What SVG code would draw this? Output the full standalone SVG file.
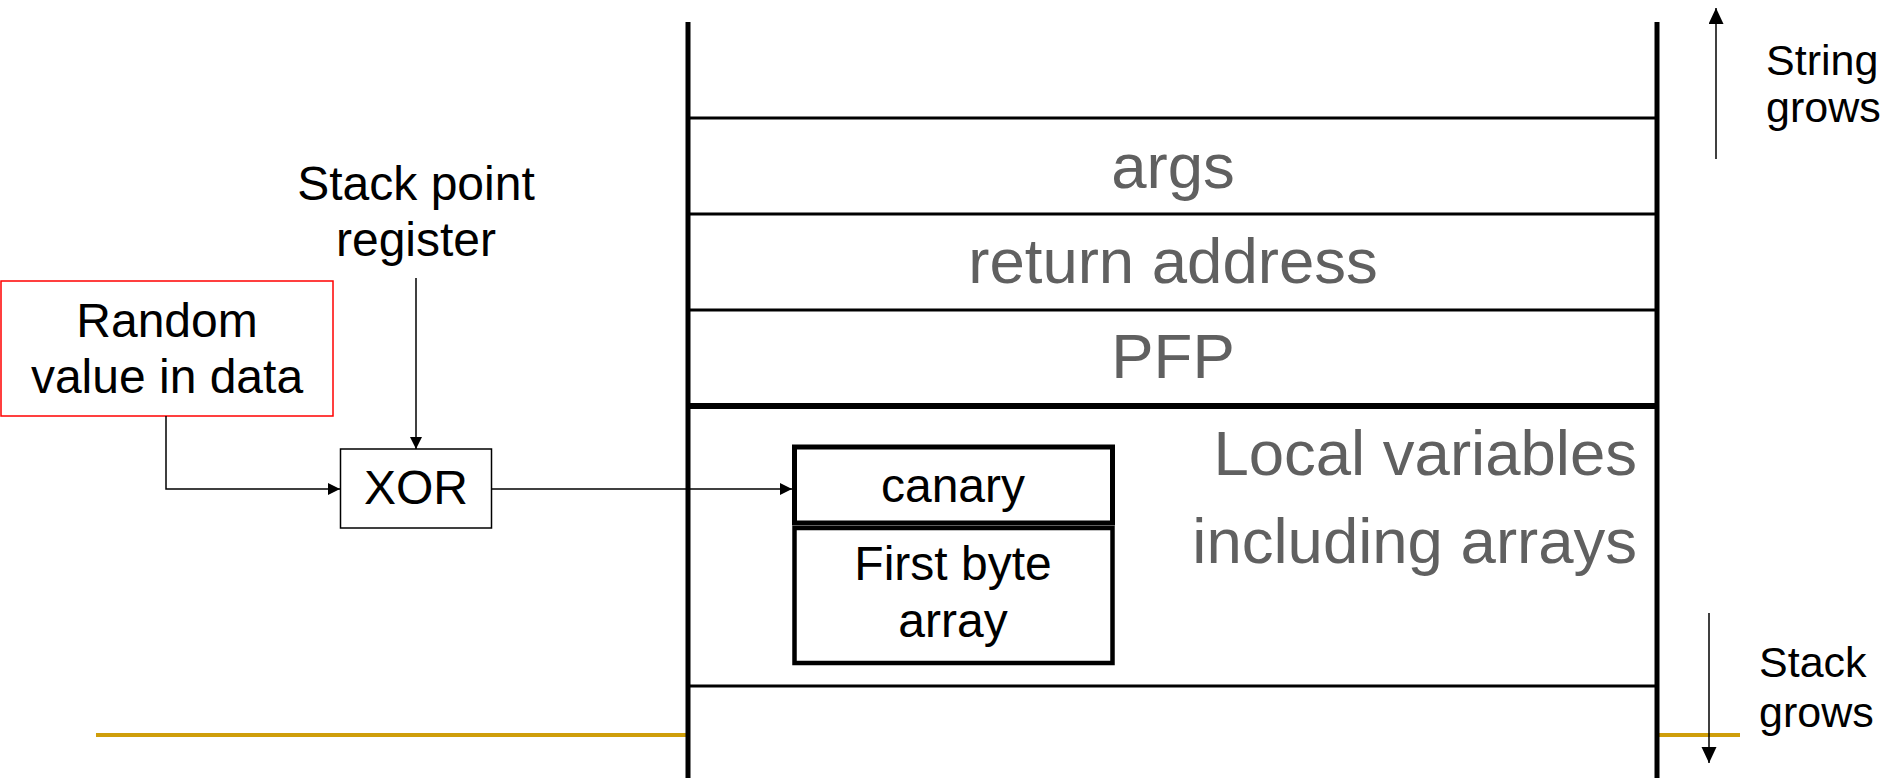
<svg xmlns="http://www.w3.org/2000/svg" width="1889" height="778" viewBox="0 0 1889 778">
  <style>
    .lbl { font-family: "Liberation Sans", Arial, sans-serif; font-size: 48px; fill: #000; }
    .big { font-family: "Liberation Sans", Arial, sans-serif; font-size: 63.5px; fill: #606060; }
    .side { font-family: "Liberation Sans", Arial, sans-serif; font-size: 43px; fill: #000; }
    .wall { stroke: #000; stroke-width: 5; fill: none; }
    .div { stroke: #000; stroke-width: 3; fill: none; }
    .gold { stroke: #cf9e0a; stroke-width: 4; fill: none; }
    .conn { stroke: #000; stroke-width: 1.5; fill: none; }
  </style>
  <defs>
    <marker id="arr" markerUnits="userSpaceOnUse" markerWidth="13" markerHeight="13" refX="12" refY="6" orient="auto">
      <path d="M0,0 L12,6 L0,12 z" fill="#000"/>
    </marker>
    <marker id="arrBig" markerUnits="userSpaceOnUse" markerWidth="17" markerHeight="16" refX="16" refY="7.5" orient="auto">
      <path d="M0,0 L16,7.5 L0,15 z" fill="#000"/>
    </marker>
  </defs>

  <rect width="1889" height="778" fill="#fff"/>

  <!-- stack frame -->
  <g id="stack">
    <line class="gold" x1="96" y1="735" x2="688" y2="735"/>
    <line class="gold" x1="1657" y1="735" x2="1740" y2="735"/>
    <line class="div" x1="688" y1="118" x2="1657" y2="118"/>
    <line class="div" x1="688" y1="214" x2="1657" y2="214"/>
    <line class="div" x1="688" y1="310" x2="1657" y2="310"/>
    <line stroke="#000" stroke-width="6" x1="688" y1="406" x2="1657" y2="406"/>
    <line class="div" x1="688" y1="686" x2="1657" y2="686"/>
    <line class="wall" x1="688" y1="22" x2="688" y2="778"/>
    <line class="wall" x1="1657" y1="22" x2="1657" y2="778"/>
    <text class="big" x="1173" y="188" text-anchor="middle">args</text>
    <text class="big" x="1173" y="283" text-anchor="middle">return address</text>
    <text class="big" x="1173" y="378" text-anchor="middle">PFP</text>
    <text class="big" x="1637" y="475" text-anchor="end">Local variables</text>
    <text class="big" x="1637" y="563" text-anchor="end">including arrays</text>
  </g>

  <g id="random">
    <rect x="1" y="281" width="332" height="135" fill="none" stroke="#ff0000" stroke-width="1.5"/>
    <text class="lbl" x="167" y="337" text-anchor="middle">Random</text>
    <text class="lbl" x="167" y="393" text-anchor="middle">value in data</text>
  </g>

  <g id="sp">
    <text class="lbl" x="416" y="200" text-anchor="middle">Stack point</text>
    <text class="lbl" x="416" y="256" text-anchor="middle">register</text>
  </g>

  <g id="xor">
    <rect x="340.5" y="449" width="151" height="79" fill="#fff" stroke="#000" stroke-width="1.5"/>
    <text class="lbl" x="416" y="504" text-anchor="middle">XOR</text>
  </g>

  <g id="canary">
    <rect x="794.5" y="447" width="318" height="76" fill="none" stroke="#000" stroke-width="5"/>
    <text class="lbl" x="953" y="502" text-anchor="middle">canary</text>
  </g>

  <g id="array">
    <rect x="794.5" y="528" width="318" height="135" fill="none" stroke="#000" stroke-width="4.5"/>
    <text class="lbl" x="953" y="580" text-anchor="middle">First byte</text>
    <text class="lbl" x="953" y="637" text-anchor="middle">array</text>
  </g>

  <g id="string-grows">
    <text class="side" x="1766" y="75">String</text>
    <text class="side" x="1766" y="122">grows</text>
  </g>

  <g id="stack-grows">
    <text class="side" x="1759" y="677">Stack</text>
    <text class="side" x="1759" y="727">grows</text>
  </g>

  <!-- connectors -->
  <g id="connectors">
    <polyline class="conn" points="166,416 166,489 340,489" marker-end="url(#arr)"/>
    <line class="conn" x1="416" y1="278" x2="416" y2="449" marker-end="url(#arr)"/>
    <line class="conn" x1="491.5" y1="489" x2="792" y2="489" marker-end="url(#arr)"/>
    <line class="conn" x1="1716" y1="159" x2="1716" y2="8" marker-end="url(#arrBig)"/>
    <line class="conn" x1="1709" y1="613" x2="1709" y2="763" marker-end="url(#arrBig)"/>
  </g>
</svg>
